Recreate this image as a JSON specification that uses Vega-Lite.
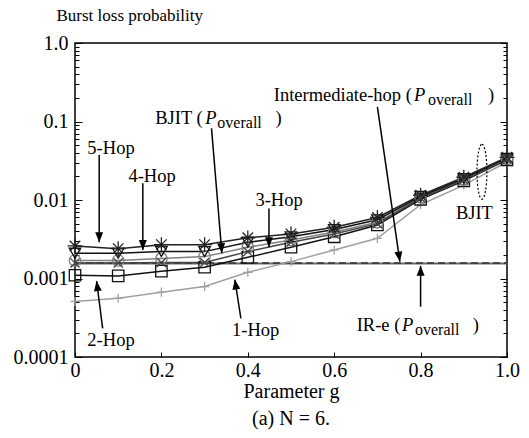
{
  "$schema": "https://vega.github.io/schema/vega-lite/v6.json",
  "width": 432,
  "height": 314,
  "autosize": "none",
  "padding": {"left": 75, "top": 43, "right": 22, "bottom": 81},
  "background": "white",
  "config": {
    "view": {"stroke": "black", "strokeWidth": 1.5},
    "font": "Liberation Serif",
    "axis": {"labelFont": "Liberation Serif", "titleFont": "Liberation Serif", "labelColor": "black", "titleColor": "black", "titleFontWeight": "normal", "domainColor": "black", "tickColor": "black", "grid": false}
  },
  "title": {"text": "(a) N = 6.", "orient": "bottom", "font": "Liberation Serif", "fontSize": 20, "fontWeight": "normal", "color": "black", "offset": 8},
  "datasets": {
    "series": [
      {"g": 0, "p": 0.00051, "s": "1-Hop"}, {"g": 0.1, "p": 0.00056, "s": "1-Hop"}, {"g": 0.2, "p": 0.00067, "s": "1-Hop"}, {"g": 0.3, "p": 0.00079, "s": "1-Hop"}, {"g": 0.4, "p": 0.0012, "s": "1-Hop"}, {"g": 0.5, "p": 0.00164, "s": "1-Hop"}, {"g": 0.6, "p": 0.00231, "s": "1-Hop"}, {"g": 0.7, "p": 0.00325, "s": "1-Hop"}, {"g": 0.8, "p": 0.0087, "s": "1-Hop"}, {"g": 0.9, "p": 0.0155, "s": "1-Hop"}, {"g": 1.0, "p": 0.0305, "s": "1-Hop"},
      {"g": 0, "p": 0.0011, "s": "2-Hop"}, {"g": 0.1, "p": 0.00108, "s": "2-Hop"}, {"g": 0.2, "p": 0.00124, "s": "2-Hop"}, {"g": 0.3, "p": 0.00139, "s": "2-Hop"}, {"g": 0.4, "p": 0.00186, "s": "2-Hop"}, {"g": 0.5, "p": 0.0025, "s": "2-Hop"}, {"g": 0.6, "p": 0.0034, "s": "2-Hop"}, {"g": 0.7, "p": 0.0048, "s": "2-Hop"}, {"g": 0.8, "p": 0.0102, "s": "2-Hop"}, {"g": 0.9, "p": 0.0175, "s": "2-Hop"}, {"g": 1.0, "p": 0.0325, "s": "2-Hop"},
      {"g": 0, "p": 0.0017, "s": "3-Hop"}, {"g": 0.1, "p": 0.0017, "s": "3-Hop"}, {"g": 0.2, "p": 0.0018, "s": "3-Hop"}, {"g": 0.3, "p": 0.0019, "s": "3-Hop"}, {"g": 0.4, "p": 0.0025, "s": "3-Hop"}, {"g": 0.5, "p": 0.0031, "s": "3-Hop"}, {"g": 0.6, "p": 0.0039, "s": "3-Hop"}, {"g": 0.7, "p": 0.0052, "s": "3-Hop"}, {"g": 0.8, "p": 0.0108, "s": "3-Hop"}, {"g": 0.9, "p": 0.0183, "s": "3-Hop"}, {"g": 1.0, "p": 0.0335, "s": "3-Hop"},
      {"g": 0, "p": 0.0021, "s": "4-Hop"}, {"g": 0.1, "p": 0.0021, "s": "4-Hop"}, {"g": 0.2, "p": 0.0022, "s": "4-Hop"}, {"g": 0.3, "p": 0.0022, "s": "4-Hop"}, {"g": 0.4, "p": 0.0029, "s": "4-Hop"}, {"g": 0.5, "p": 0.0034, "s": "4-Hop"}, {"g": 0.6, "p": 0.0042, "s": "4-Hop"}, {"g": 0.7, "p": 0.0056, "s": "4-Hop"}, {"g": 0.8, "p": 0.0111, "s": "4-Hop"}, {"g": 0.9, "p": 0.0188, "s": "4-Hop"}, {"g": 1.0, "p": 0.034, "s": "4-Hop"},
      {"g": 0, "p": 0.0026, "s": "5-Hop"}, {"g": 0.1, "p": 0.0024, "s": "5-Hop"}, {"g": 0.2, "p": 0.0027, "s": "5-Hop"}, {"g": 0.3, "p": 0.0027, "s": "5-Hop"}, {"g": 0.4, "p": 0.0033, "s": "5-Hop"}, {"g": 0.5, "p": 0.0037, "s": "5-Hop"}, {"g": 0.6, "p": 0.0045, "s": "5-Hop"}, {"g": 0.7, "p": 0.006, "s": "5-Hop"}, {"g": 0.8, "p": 0.0115, "s": "5-Hop"}, {"g": 0.9, "p": 0.0195, "s": "5-Hop"}, {"g": 1.0, "p": 0.035, "s": "5-Hop"},
      {"g": 0, "p": 0.00158, "s": "BJIT"}, {"g": 0.1, "p": 0.00158, "s": "BJIT"}, {"g": 0.2, "p": 0.0016, "s": "BJIT"}, {"g": 0.3, "p": 0.0016, "s": "BJIT"}, {"g": 0.4, "p": 0.0022, "s": "BJIT"}, {"g": 0.5, "p": 0.0029, "s": "BJIT"}, {"g": 0.6, "p": 0.0037, "s": "BJIT"}, {"g": 0.7, "p": 0.005, "s": "BJIT"}, {"g": 0.8, "p": 0.0106, "s": "BJIT"}, {"g": 0.9, "p": 0.018, "s": "BJIT"}, {"g": 1.0, "p": 0.033, "s": "BJIT"}
    ],
    "ref": [
      {"g": 0, "p": 0.00155, "s": "IR-e"}, {"g": 1.0, "p": 0.00155, "s": "IR-e"},
      {"g": 0, "p": 0.00158, "s": "Intermediate-hop"}, {"g": 1.0, "p": 0.00158, "s": "Intermediate-hop"}
    ],
    "arrows": [
      {"x": 0.056, "y": 0.0374, "x2": 0.056, "y2": 0.0029},
      {"x": 0.157, "y": 0.0163, "x2": 0.157, "y2": 0.0023},
      {"x": 0.316, "y": 0.0819, "x2": 0.34, "y2": 0.0021},
      {"x": 0.449, "y": 0.0078, "x2": 0.449, "y2": 0.0025},
      {"x": 0.7, "y": 0.154, "x2": 0.752, "y2": 0.00164},
      {"x": 0.064, "y": 0.000232, "x2": 0.05, "y2": 0.00093},
      {"x": 0.384, "y": 0.000311, "x2": 0.37, "y2": 0.00097},
      {"x": 0.8, "y": 0.000437, "x2": 0.8, "y2": 0.00145}
    ],
    "labels": [
      {"x": 0.0286, "y": 0.046, "t": "5-Hop"},
      {"x": 0.1237, "y": 0.0202, "t": "4-Hop"},
      {"x": 0.4176, "y": 0.0100, "t": "3-Hop"},
      {"x": 0.0286, "y": 0.000165, "t": "2-Hop"},
      {"x": 0.3635, "y": 0.000221, "t": "1-Hop"},
      {"x": 0.8817, "y": 0.00676, "t": "BJIT"},
      {"x": 0.1856, "y": 0.111, "t": "BJIT ("},
      {"x": 0.464, "y": 0.111, "t": ")"},
      {"x": 0.46, "y": 0.218, "t": "Intermediate-hop ("},
      {"x": 0.956, "y": 0.218, "t": ")"},
      {"x": 0.652, "y": 0.000256, "t": "IR-e ("},
      {"x": 0.921, "y": 0.000256, "t": ")"}
    ],
    "pletters": [
      {"x": 0.3016, "y": 0.111, "t": "P"},
      {"x": 0.785, "y": 0.218, "t": "P"},
      {"x": 0.757, "y": 0.000256, "t": "P"}
    ],
    "subs": [
      {"x": 0.3295, "y": 0.111, "t": "overall"},
      {"x": 0.817, "y": 0.218, "t": "overall"},
      {"x": 0.787, "y": 0.000256, "t": "overall"}
    ],
    "ellipse": [{"x": 0.942, "y": 0.0229}]
  },
  "layer": [
    {
      "layer": [
        {
          "data": {"name": "ref"},
          "transform": [{"filter": "datum.s === 'IR-e'"}],
          "mark": {"type": "line", "color": "#666666", "strokeWidth": 2},
          "encoding": {
            "x": {"field": "g", "type": "quantitative", "scale": {"domain": [0, 1]},
              "axis": {"orient": "bottom", "values": [0, 0.2, 0.4, 0.6, 0.8, 1.0], "labelExpr": "datum.value == 0 ? '0' : format(datum.value, '.1f')", "labelFontSize": 20, "tickSize": -5, "labelPadding": 8, "domain": false, "title": "Parameter g", "titleFont": "Liberation Serif", "titleFontSize": 20, "titleY": 34, "titleBaseline": "middle", "labelFlush": false}},
            "y": {"field": "p", "type": "quantitative", "scale": {"type": "log", "domain": [0.0001, 1]},
              "axis": {"orient": "left", "values": [0.0001,0.0002,0.0003,0.0004,0.0005,0.0006,0.0007,0.0008,0.0009,0.001,0.002,0.003,0.004,0.005,0.006,0.007,0.008,0.009,0.01,0.02,0.03,0.04,0.05,0.06,0.07,0.08,0.09,0.1,0.2,0.3,0.4,0.5,0.6,0.7,0.8,0.9,1],
                "labelExpr": "datum.value == 1 ? '1.0' : (abs(log(datum.value)/LN10 - round(log(datum.value)/LN10)) < 0.000001 ? format(datum.value, '~g') : '')",
                "tickSize": {"condition": {"test": "abs(log(datum.value)/LN10 - round(log(datum.value)/LN10)) < 0.000001", "value": -7}, "value": -4},
                "labelFontSize": 20, "labelPadding": 14, "domain": false, "labelFlush": false,
                "title": "Burst loss probability", "titleFont": "Liberation Serif", "titleFontSize": 17, "titleAngle": 0, "titleAlign": "left", "titleBaseline": "middle", "titleX": -19, "titleY": -28}}
          }
        },
        {
          "data": {"name": "ref"},
          "transform": [{"filter": "datum.s === 'Intermediate-hop'"}],
          "mark": {"type": "line", "color": "#333333", "strokeWidth": 1.5, "strokeDash": [7, 4]},
          "encoding": {"x": {"field": "g", "type": "quantitative"}, "y": {"field": "p", "type": "quantitative"}}
        },
        {
          "data": {"name": "series"},
          "mark": {"type": "line", "strokeWidth": 1.5},
          "encoding": {
            "x": {"field": "g", "type": "quantitative"},
            "y": {"field": "p", "type": "quantitative"},
            "color": {"field": "s", "type": "nominal", "legend": null, "scale": {"domain": ["1-Hop", "2-Hop", "3-Hop", "4-Hop", "5-Hop", "BJIT"], "range": ["#a0a0a0", "#111111", "#808080", "#111111", "#222222", "#444444"]}}
          }
        },
        {
          "data": {"name": "series"},
          "mark": {"type": "point", "filled": false, "size": 130, "strokeWidth": 1.3, "opacity": 1},
          "encoding": {
            "x": {"field": "g", "type": "quantitative"},
            "y": {"field": "p", "type": "quantitative"},
            "color": {"field": "s", "type": "nominal", "legend": null},
            "shape": {"field": "s", "type": "nominal", "legend": null, "scale": {"domain": ["1-Hop", "2-Hop", "3-Hop", "4-Hop", "5-Hop", "BJIT"], "range": ["M-0.8,0L0.8,0M0,-0.8L0,0.8", "square", "circle", "triangle-down", "M-1.3,0L1.3,0M0,-1.3L0,1.3M-0.92,-0.92L0.92,0.92M-0.92,0.92L0.92,-0.92", "M-0.8,-0.8L0.8,0.8M-0.8,0.8L0.8,-0.8"]}}
          }
        },
        {
          "data": {"name": "arrows"},
          "mark": {"type": "rule", "color": "black", "strokeWidth": 1.5},
          "encoding": {
            "x": {"field": "x", "type": "quantitative"},
            "y": {"field": "y", "type": "quantitative"},
            "x2": {"field": "x2"},
            "y2": {"field": "y2"}
          }
        },
        {
          "data": {"name": "arrows"},
          "mark": {"type": "point", "filled": true, "color": "black", "opacity": 1, "size": 100, "shape": "M0,0L-0.8,2L0.8,2Z",
            "angle": {"expr": "atan2(scale('x', datum.x2) - scale('x', datum.x), -(scale('y', datum.y2) - scale('y', datum.y))) * 180 / PI"}},
          "encoding": {
            "x": {"field": "x2", "type": "quantitative"},
            "y": {"field": "y2", "type": "quantitative"}
          }
        },
        {
          "data": {"name": "labels"},
          "mark": {"type": "text", "align": "left", "baseline": "middle", "font": "Liberation Serif", "fontSize": 18.5, "color": "black"},
          "encoding": {
            "x": {"field": "x", "type": "quantitative"},
            "y": {"field": "y", "type": "quantitative"},
            "text": {"field": "t"}
          }
        },
        {
          "data": {"name": "pletters"},
          "mark": {"type": "text", "align": "left", "baseline": "middle", "font": "Liberation Serif", "fontSize": 18.5, "fontStyle": "italic", "color": "black"},
          "encoding": {
            "x": {"field": "x", "type": "quantitative"},
            "y": {"field": "y", "type": "quantitative"},
            "text": {"field": "t"}
          }
        },
        {
          "data": {"name": "subs"},
          "mark": {"type": "text", "align": "left", "baseline": "middle", "font": "Liberation Serif", "fontSize": 16, "dy": 5, "color": "black"},
          "encoding": {
            "x": {"field": "x", "type": "quantitative"},
            "y": {"field": "y", "type": "quantitative"},
            "text": {"field": "t"}
          }
        }
      ]
    },
    {
      "data": {"name": "ellipse"},
      "mark": {"type": "point", "filled": false, "color": "black", "opacity": 1, "strokeWidth": 1.2, "strokeDash": [2, 2], "size": 3025, "shape": "M0,-1A0.18,1 0 1,1 0,1A0.18,1 0 1,1 0,-1"},
      "encoding": {
        "x": {"field": "x", "type": "quantitative"},
        "y": {"field": "y", "type": "quantitative",
          "axis": {"orient": "right", "values": [0.0001,0.0002,0.0003,0.0004,0.0005,0.0006,0.0007,0.0008,0.0009,0.001,0.002,0.003,0.004,0.005,0.006,0.007,0.008,0.009,0.01,0.02,0.03,0.04,0.05,0.06,0.07,0.08,0.09,0.1,0.2,0.3,0.4,0.5,0.6,0.7,0.8,0.9,1],
            "labels": false, "title": null, "domain": false,
            "tickSize": {"condition": {"test": "abs(log(datum.value)/LN10 - round(log(datum.value)/LN10)) < 0.000001", "value": -7}, "value": -4}}}
      }
    }
  ],
  "resolve": {"axis": {"y": "independent"}}
}
